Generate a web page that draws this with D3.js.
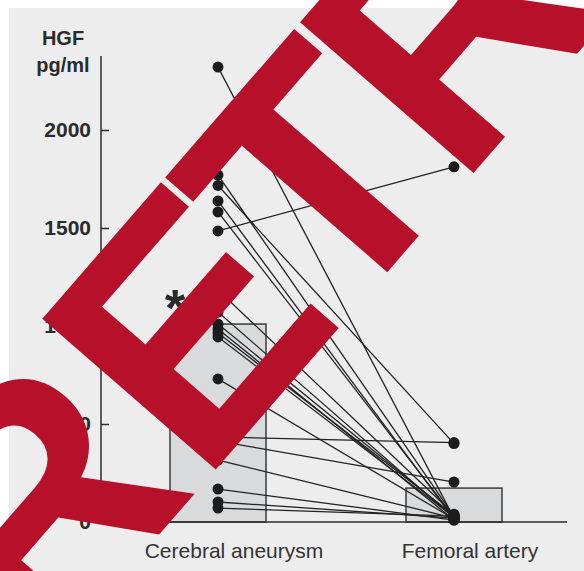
<!DOCTYPE html>
<html>
<head>
<meta charset="utf-8">
<script src="https://cdn.jsdelivr.net/npm/d3@7"></script>
<style>
  html, body { margin: 0; padding: 0; background: #ffffff; }
  svg { display: block; }
  text { font-family: "Liberation Sans", Arial, Helvetica, sans-serif; }
</style>
</head>
<body>
<svg id="chart" width="584" height="571"></svg>
<script>
// ---- data ----
const categories = ["Cerebral aneurysm", "Femoral artery"];
const barMeans = [1010, 173];
const aneurysmValues = [2321, 1770, 1717, 1638, 1582, 1485, 1184, 1071, 1010, 985, 964, 944, 730, 434, 413, 316, 168, 102, 71];
const femoralValues  = [20, 30, 400, 15, 25, 1812, 40, 20, 30, 10, 35, 25, 15, 405, 204, 20, 10, 20, 30];
const yTicks = [0, 500, 1000, 1500, 2000];
const yLabelLines = ["HGF", "pg/ml"];
const watermark = "RETRACTED";

// ---- layout ----
const svg = d3.select("#chart");
svg.append("rect").attr("x", 9).attr("y", 8).attr("width", 575).attr("height", 563).attr("fill", "#ededed");

const y = d3.scaleLinear().domain([0, 2000]).range([522, 130]);
const x = d3.scalePoint().domain(categories).range([218, 454]);
const barW = 96;
const axisX = 101;
const ink = "#2b2b2b";

// bars
svg.append("g").selectAll("rect").data(categories).join("rect")
  .attr("x", d => x(d) - barW / 2)
  .attr("y", (d, i) => y(barMeans[i]))
  .attr("width", barW)
  .attr("height", (d, i) => y(0) - y(barMeans[i]))
  .attr("fill", "#d9dadc")
  .attr("stroke", "#3a3a3a")
  .attr("stroke-width", 1.5);

// y axis
const yAxis = d3.axisLeft(y).tickValues(yTicks).tickSize(-8).tickPadding(10).tickFormat(d3.format("d"));
const gy = svg.append("g").attr("transform", `translate(${axisX},0)`).call(yAxis);
gy.select(".domain").remove();
gy.selectAll(".tick line").attr("stroke", ink).attr("stroke-width", 1.5);
gy.selectAll(".tick text").attr("fill", ink).attr("font-size", 21).attr("font-weight", "bold")
  .attr("font-family", "'Liberation Sans', Arial, sans-serif");
svg.append("line").attr("x1", axisX).attr("x2", axisX).attr("y1", y(0)).attr("y2", y(2378))
  .attr("stroke", ink).attr("stroke-width", 1.5);
// x axis baseline
svg.append("line").attr("x1", axisX).attr("x2", 567).attr("y1", y(0)).attr("y2", y(0))
  .attr("stroke", ink).attr("stroke-width", 1.5);

// y label
svg.append("g").selectAll("text").data(yLabelLines).join("text")
  .attr("x", 63).attr("y", (d, i) => 45 + i * 27)
  .attr("text-anchor", "middle").attr("font-size", 20).attr("font-weight", "bold").attr("fill", ink)
  .text(d => d);

// category labels
svg.append("g").selectAll("text").data(categories).join("text")
  .attr("x", d => x(d) + 16).attr("y", 558)
  .attr("text-anchor", "middle").attr("font-size", 21).attr("fill", "#333")
  .text(d => d);

// paired lines
const pairs = aneurysmValues.map((v, i) => [v, femoralValues[i]]);
svg.append("g").selectAll("line").data(pairs).join("line")
  .attr("x1", x(categories[0])).attr("y1", d => y(d[0]))
  .attr("x2", x(categories[1])).attr("y2", d => y(d[1]))
  .attr("stroke", "#222").attr("stroke-width", 1.3);

// points
const pts = svg.append("g");
pts.selectAll("circle.a").data(aneurysmValues).join("circle").attr("class", "a")
  .attr("cx", x(categories[0])).attr("cy", d => y(d)).attr("r", 5.5).attr("fill", "#1c1c1c");
pts.selectAll("circle.f").data(femoralValues).join("circle").attr("class", "f")
  .attr("cx", x(categories[1])).attr("cy", d => y(d)).attr("r", 5.5).attr("fill", "#1c1c1c");

// significance asterisk
svg.append("text").attr("x", 175).attr("y", 326).attr("text-anchor", "middle")
  .attr("font-size", 52).attr("font-weight", "bold").attr("fill", ink).text("*");

// watermark
const wm = svg.append("text")
  .attr("transform", "translate(54,655.5) rotate(-49)")
  .attr("font-size", 334).attr("font-weight", "bold")
  .attr("letter-spacing", -17)
  .attr("fill", "#b7102b");
wm.append("tspan").attr("dx", -20).text(watermark.slice(0, 1));
wm.append("tspan").attr("dx", 20).text(watermark.slice(1));
</script>
</body>
</html>
